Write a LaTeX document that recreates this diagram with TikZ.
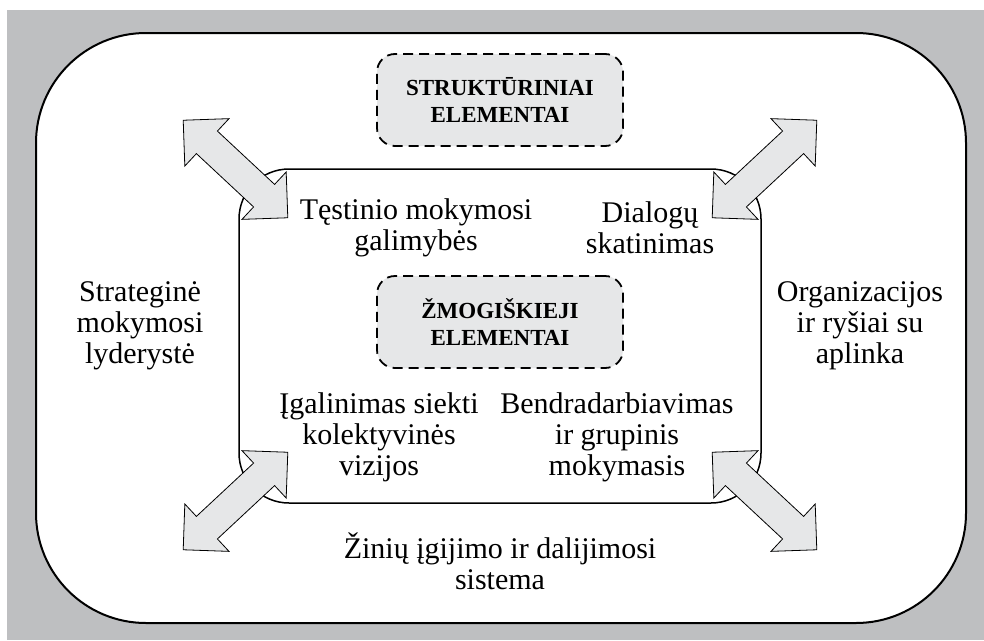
\documentclass[tikz,border=0pt]{standalone}
\usepackage{fontspec}
\setmainfont{Liberation Serif}
\usetikzlibrary{shapes.arrows}
\definecolor{bggray}{RGB}{190,191,193}
\definecolor{boxgray}{RGB}{230,231,232}
\tikzset{
  elembox/.style={draw, line width=1.8pt, dash pattern=on 10pt off 6pt, fill=boxgray,
    rounded corners=18pt, minimum width=246pt, minimum height=92pt, align=center,
    font=\fontsize{23}{27}\selectfont\bfseries},
  areatext/.style={align=center, inner sep=0pt, font=\fontsize{30}{31}\selectfont},
  linkarrow/.style={double arrow, draw, line width=0.8pt, fill=boxgray,
    inner xsep=0pt, inner ysep=15pt, minimum width=64pt,
    double arrow head extend=17pt, minimum height=143pt}
}
\begin{document}
\begin{tikzpicture}[x=1pt,y=-1pt]
  \useasboundingbox (0,0) rectangle (984,640);
  \fill[bggray] (7,10) rectangle (984,640);
  % outer and inner frames
  \draw[fill=white, line width=2pt, rounded corners=110pt] (36,33) rectangle (966,623);
  \draw[line width=1.5pt, rounded corners=50pt] (239,169) rectangle (761,503);
  % elements
  \node[elembox] (struct) at (500,100) {STRUKTŪRINIAI\\ELEMENTAI};
  \node[elembox] (human) at (500,322) {ŽMOGIŠKIEJI\\ELEMENTAI};
  \node[areatext] (learn) at (416,228) {Tęstinio mokymosi\\galimybės};
  \node[areatext] (dialog) at (650,228) {Dialogų\\skatinimas};
  \node[areatext] (lead) at (140,326) {Strateginė\\mokymosi\\lyderystė};
  \node[areatext] (org) at (860,326) {Organizacijos\\ir ryšiai su\\aplinka};
  \node[areatext] (vision) at (379,437) {Įgalinimas siekti\\kolektyvinės\\vizijos};
  \node[areatext] (team) at (617,437) {Bendradarbiavimas\\ir grupinis\\mokymasis};
  \node[areatext] (know) at (500,561) {Žinių įgijimo ir dalijimosi\\sistema};
  % arrows
  \node[linkarrow, rotate=-43] (arrowtl) at (235.5,169) {};
  \node[linkarrow, rotate=43] (arrowtr) at (764.5,169) {};
  \node[linkarrow, rotate=43] (arrowbl) at (235.5,501) {};
  \node[linkarrow, rotate=-43] (arrowbr) at (764.5,501) {};
\end{tikzpicture}
\end{document}
